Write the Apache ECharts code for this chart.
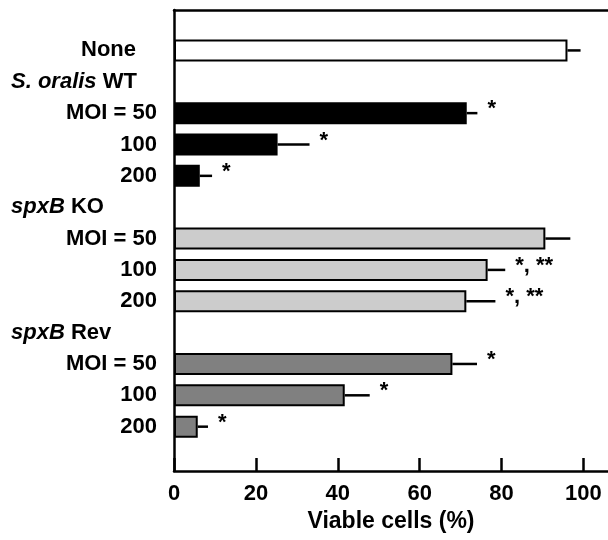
<!DOCTYPE html>
<html>
<head>
<meta charset="utf-8">
<script src="https://cdn.jsdelivr.net/npm/echarts@6/dist/echarts.min.js"></script>
<style>
  html, body { margin: 0; padding: 0; background: #fff; }
  #chart { width: 608px; height: 540px; }
</style>
</head>
<body>
<div id="chart"></div>
<script>
// viable cells (%), mean and upper error
const controlLabel = 'None';
const controlViable = 96.1;
const controlErr = 3.2;

const groupNames = [['S. oralis', 'WT'], ['spxB', 'KO'], ['spxB', 'Rev']]; // italic part, roman part
const moiLabels = ['MOI = 50', '100', '200'];

const wtViable = [71.5, 25.3, 6.3];
const wtErr = [2.6, 7.8, 3.0];
const wtMarks = ['*', '*', '*'];

const koViable = [90.7, 76.6, 71.4];
const koErr = [6.1, 4.3, 7.1];
const koMarks = ['', '*, **', '*, **'];

const revViable = [68.0, 41.7, 5.8];
const revErr = [6.0, 6.1, 2.5];
const revMarks = ['*', '*', '*'];

const xTicks = [0, 20, 40, 60, 80, 100];
const xMax = 106;
const xName = 'Viable cells (%)';

const FONT = '"Liberation Sans", Arial, Helvetica, sans-serif';
const FILLS = { control: '#ffffff', wt: '#000000', ko: '#cccccc', rev: '#808080' };

// one slot per row, top to bottom; blank rows pad the frame
const rows = [{ type: 'blank' }];
rows.push({ type: 'bar', label: controlLabel, value: controlViable, err: controlErr, mark: '', fill: FILLS.control, control: true });
[[wtViable, wtErr, wtMarks, FILLS.wt], [koViable, koErr, koMarks, FILLS.ko], [revViable, revErr, revMarks, FILLS.rev]]
  .forEach(([vals, errs, marks, fill], g) => {
    rows.push({ type: 'group', name: groupNames[g] });
    vals.forEach((v, i) => rows.push({ type: 'bar', label: moiLabels[i], value: v, err: errs[i], mark: marks[i], fill }));
  });
rows.push({ type: 'blank' });

const slots = rows.map((r, i) => 'row' + i);
const barRows = rows.map((r, i) => ({ ...r, slot: i })).filter(r => r.type === 'bar');

const txt = { fontFamily: FONT, fontWeight: 'bold', fontSize: 22, color: '#000' };

const chart = echarts.init(document.getElementById('chart'));

chart.setOption({
  animation: false,
  backgroundColor: '#fff',
  grid: [
    { left: 174, right: 0, top: 3.4, bottom: 66.3 },   // bars
    { left: 174, right: 0, top: 10, bottom: 69 },      // frame
  ],
  xAxis: [
    { gridIndex: 0, type: 'value', min: 0, max: xMax, show: false },
    {
      gridIndex: 1, type: 'value', min: 0, max: xMax, position: 'bottom',
      axisLine: { lineStyle: { color: '#000', width: 2.5 } },
      axisTick: { inside: true, length: 13, lineStyle: { color: '#000', width: 2.5 }, customValues: xTicks },
      axisLabel: { ...txt, margin: 12, customValues: xTicks },
      splitLine: { show: false },
      name: xName, nameLocation: 'middle', nameGap: 38,
      nameTextStyle: { ...txt, fontSize: 23 },
    },
    {
      gridIndex: 1, type: 'value', min: 0, max: xMax, position: 'top',
      axisLine: { lineStyle: { color: '#000', width: 2.5 } },
      axisTick: { show: false }, axisLabel: { show: false }, splitLine: { show: false },
    },
  ],
  yAxis: [
    {
      gridIndex: 0, type: 'category', data: slots, inverse: true,
      axisLine: { show: false }, axisTick: { show: false },
      axisLabel: {
        ...txt, interval: 0, margin: 17, align: 'right',
        formatter: (v, i) => {
          const r = rows[i];
          if (r.type !== 'bar') return '';
          return r.control ? '{pad|' + r.label + '}' : r.label;
        },
        rich: { pad: { ...txt, padding: [0, 21, 0, 0] } },
      },
    },
    {
      gridIndex: 1, type: 'value', min: 0, max: 1,
      axisLine: { show: true, lineStyle: { color: '#000', width: 2.5 } },
      axisTick: { show: false }, axisLabel: { show: false }, splitLine: { show: false },
    },
    {
      gridIndex: 0, type: 'category', data: slots, inverse: true, position: 'left',
      axisLine: { show: false }, axisTick: { show: false },
      axisLabel: {
        ...txt, interval: 0, margin: 163, align: 'left',
        formatter: (v, i) => {
          const r = rows[i];
          return r.type === 'group' ? '{it|' + r.name[0] + '}{rg| ' + r.name[1] + '}' : '';
        },
        rich: {
          it: { ...txt, fontStyle: 'italic' },
          rg: { ...txt },
        },
      },
    },
  ],
  series: [
    {
      type: 'bar', xAxisIndex: 0, yAxisIndex: 0, barWidth: 22,
      data: rows.map(r => r.type === 'bar'
        ? { value: r.value, itemStyle: { color: r.fill, borderColor: '#000', borderWidth: 2 } }
        : '-'),
    },
    {
      type: 'custom', xAxisIndex: 0, yAxisIndex: 0,
      encode: { x: 0, y: 1 },
      data: barRows.map(r => [r.value, r.slot, r.err]),
      renderItem: (params, api) => {
        const r = barRows[params.dataIndex];
        const a = api.coord([api.value(0), api.value(1)]);
        const b = api.coord([api.value(0) + api.value(2), api.value(1)]);
        return {
          type: 'group',
          children: [
            { type: 'line', shape: { x1: a[0], y1: a[1], x2: b[0], y2: b[1] }, style: { stroke: '#000', lineWidth: 2.5 } },
            { type: 'text', x: b[0] + 10, y: a[1] - 4,
              style: { text: r.mark, font: 'bold 22px ' + FONT, fill: '#000', align: 'left', verticalAlign: 'middle' } },
          ],
        };
      },
      z: 3,
    },
  ],
});
</script>
</body>
</html>
